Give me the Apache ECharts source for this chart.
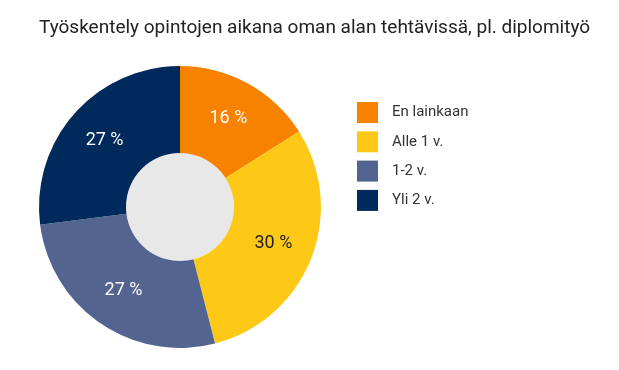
<!DOCTYPE html>
<html><head><meta charset="utf-8">
<script src="https://cdn.jsdelivr.net/npm/echarts@6/dist/echarts.min.js"></script>
<style>html,body{margin:0;padding:0;background:#fff}#c{width:619px;height:370px}</style>
</head><body><div id="c"></div>
<script>
const titleText = 'Työskentely opintojen aikana oman alan tehtävissä, pl. diplomityö';
const categories = ['En lainkaan', 'Alle 1 v.', '1-2 v.', 'Yli 2 v.'];
const values = [16, 30, 27, 27];
const colors = ['#f78200', '#fdc916', '#52648f', '#002a5c'];
const labelColors = ['#ffffff', '#222222', '#ffffff', '#ffffff'];

const chart = echarts.init(document.getElementById('c'));
chart.setOption({
  animation: false,
  title: {
    text: titleText, left: 39, top: 19, padding: 0,
    textStyle: {fontFamily: 'Roboto', fontSize: 19, fontWeight: 'normal', color: '#222'}
  },
  legend: {
    orient: 'vertical', left: 357, top: 102, padding: 0,
    itemWidth: 21, itemHeight: 21, itemGap: 8.3,
    icon: 'rect',
    textStyle: {fontFamily: 'Roboto', fontSize: 15, color: '#333', padding: [0,0,0,9]},
    data: categories
  },
  series: [
    {
      type: 'pie', center: [180, 207], radius: [0, 54], silent: true,
      label: {show: false}, labelLine: {show: false},
      data: [{value: 1, name: '', itemStyle: {color: '#e8e8e8'}}],
      legendHoverLink: false
    },
    {
      type: 'pie', center: [180, 207], radius: [54, 141], startAngle: 90, clockwise: true,
      itemStyle: {borderWidth: 0},
      label: {
        show: true, position: 'inside', fontFamily: 'Roboto', fontSize: 18,
        formatter: p => p.value + ' %'
      },
      labelLine: {show: false},
      data: categories.map((c, i) => ({
        name: c, value: values[i],
        itemStyle: {color: colors[i]},
        label: {color: labelColors[i]}
      }))
    }
  ]
});
</script></body></html>
